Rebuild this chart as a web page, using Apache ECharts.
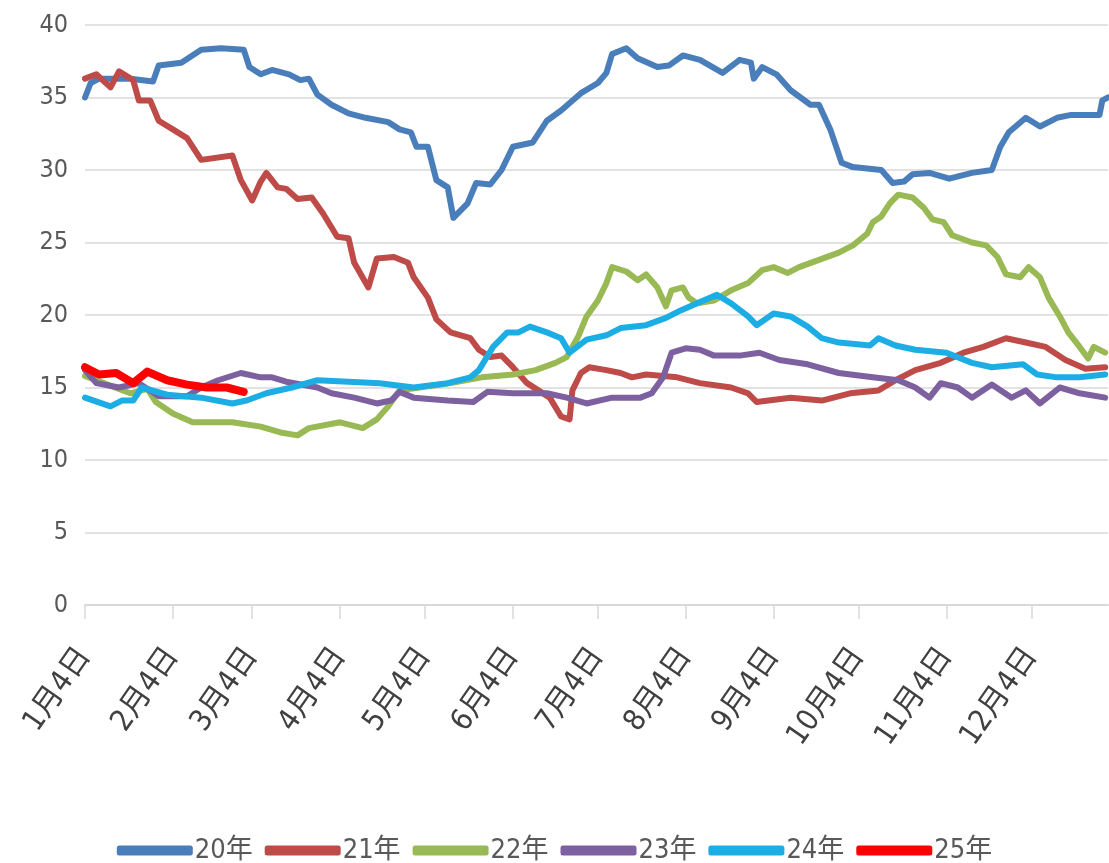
<!DOCTYPE html>
<html><head><meta charset="utf-8">
<script src="https://cdn.jsdelivr.net/npm/echarts@6/dist/echarts.min.js"></script>
<style>html,body{margin:0;padding:0;background:#fff}#c{width:1109px;height:863px}</style>
</head><body><div id="c"></div>
<script>
// x tick labels and their positions (days after 1月4日)
const tickLabels = ['1月4日','2月4日','3月4日','4月4日','5月4日','6月4日','7月4日','8月4日','9月4日','10月4日','11月4日','12月4日'];
const tickDays = [0,31,59,90,120,151,181,212,243,273,304,334];
const yTicks = [0,5,10,15,20,25,30,35,40];

const seriesNames = ['20年','21年','22年','23年','24年','25年'];

const days20 = [0,2,5,16,24,26,34,41,48,56,58,62,66,72,76,79,82,87,93,99,107,111,115,117,121,124,128,130,135,138,143,147,151,158,163,168,175,181,184,186,191,195,202,206,211,217,225,231,235,236,239,244,249,256,259,263,267,271,281,285,289,292,298,305,313,320,323,326,332,337,343,348,358,359,361];
const vals20 = [35.0,36.0,36.3,36.3,36.1,37.2,37.4,38.3,38.4,38.3,37.1,36.6,36.9,36.6,36.2,36.3,35.2,34.5,33.9,33.6,33.3,32.8,32.6,31.6,31.6,29.3,28.8,26.7,27.7,29.1,29.0,30.0,31.6,31.9,33.4,34.1,35.3,36.0,36.7,38.0,38.4,37.7,37.1,37.2,37.9,37.6,36.7,37.6,37.4,36.3,37.1,36.6,35.5,34.5,34.5,32.8,30.5,30.2,30.0,29.1,29.2,29.7,29.8,29.4,29.8,30.0,31.6,32.6,33.6,33.0,33.6,33.8,33.8,34.8,35.0];

const days21 = [0,4,9,12,17,19,23,26,31,36,41,52,55,59,62,64,68,71,75,80,84,89,93,95,100,103,109,114,116,121,124,129,136,139,143,147,151,156,160,164,168,171,172,175,178,184,189,193,198,209,217,228,234,237,249,260,270,280,286,293,302,310,317,325,332,339,346,353,360];
const vals21 = [36.3,36.6,35.7,36.8,36.2,34.8,34.8,33.4,32.8,32.2,30.7,31.0,29.3,27.9,29.2,29.8,28.8,28.7,28.0,28.1,27.0,25.4,25.3,23.6,21.9,23.9,24.0,23.6,22.6,21.2,19.7,18.8,18.4,17.6,17.1,17.2,16.4,15.3,14.8,14.3,13.0,12.8,14.8,16.0,16.4,16.2,16.0,15.7,15.9,15.7,15.3,15.0,14.6,14.0,14.3,14.1,14.6,14.8,15.5,16.2,16.7,17.4,17.8,18.4,18.1,17.8,16.9,16.3,16.4];

const days22 = [0,8,16,22,25,31,38,52,62,69,75,79,90,98,103,107,111,118,129,140,151,159,166,170,174,177,181,184,186,191,195,198,202,205,207,211,213,216,222,228,234,239,243,248,252,259,266,271,276,278,281,284,287,292,296,299,303,306,313,318,322,325,330,333,337,340,344,347,351,354,356,360];
const vals22 = [15.8,15.2,14.6,14.9,14.0,13.2,12.6,12.6,12.3,11.9,11.7,12.2,12.6,12.2,12.8,13.7,14.8,15.0,15.3,15.7,15.9,16.2,16.7,17.1,18.5,19.9,21.0,22.2,23.3,23.0,22.4,22.8,21.9,20.6,21.7,21.9,21.2,20.8,21.0,21.7,22.2,23.1,23.3,22.9,23.3,23.8,24.3,24.8,25.6,26.4,26.8,27.7,28.3,28.1,27.4,26.6,26.4,25.5,25.0,24.8,24.0,22.8,22.6,23.3,22.6,21.2,19.9,18.8,17.8,17.0,17.8,17.4];

const days23 = [0,4,12,19,26,36,41,47,55,62,66,71,82,87,95,103,108,111,116,128,137,142,151,163,170,177,186,196,200,204,207,212,217,222,231,238,245,255,266,278,287,293,298,302,308,313,320,327,332,337,344,351,360];
const vals23 = [16.2,15.3,15.0,15.3,14.4,14.4,15.0,15.5,16.0,15.7,15.7,15.4,15.0,14.6,14.3,13.9,14.1,14.7,14.3,14.1,14.0,14.7,14.6,14.6,14.3,13.9,14.3,14.3,14.6,15.7,17.4,17.7,17.6,17.2,17.2,17.4,16.9,16.6,16.0,15.7,15.5,15.0,14.3,15.3,15.0,14.3,15.2,14.3,14.8,13.9,15.0,14.6,14.3];

const days24 = [0,9,13,17,20,29,41,52,57,64,73,82,93,104,116,128,136,139,144,149,153,157,163,168,171,177,184,189,198,205,210,217,223,228,234,237,243,249,255,260,266,277,280,286,293,304,313,320,331,336,343,351,360];
const vals24 = [14.3,13.7,14.1,14.1,15.0,14.5,14.3,13.9,14.1,14.6,15.0,15.5,15.4,15.3,15.0,15.3,15.7,16.2,17.8,18.8,18.8,19.2,18.8,18.4,17.4,18.3,18.6,19.1,19.3,19.8,20.3,20.9,21.4,20.8,19.9,19.3,20.1,19.9,19.2,18.4,18.1,17.9,18.4,17.9,17.6,17.4,16.7,16.4,16.6,15.9,15.7,15.7,15.9];

const days25 = [0,5,11,17,22,29,36,43,50,56];
const vals25 = [16.4,15.9,16.0,15.3,16.1,15.5,15.2,15.0,15.0,14.7];

const allDays = [days20,days21,days22,days23,days24,days25];
const allVals = [vals20,vals21,vals22,vals23,vals24,vals25];
const colors = ['#4A7EBB','#BE4B48','#98B954','#7D60A0','#1CADE4','#FF0000'];
const widths = [6,6,6,6,6,8];

const font = "'DejaVu Sans Condensed','Noto Sans CJK SC',sans-serif";

const chart = echarts.init(document.getElementById('c'), null, {renderer:'canvas'});
chart.setOption({
  animation:false,
  backgroundColor:'#fff',
  grid:{left:85,right:1,top:25,bottom:258,containLabel:false},
  legend:{
    top:832, left:'center',
    data:seriesNames,
    icon:'roundRect', itemWidth:76, itemHeight:10, itemGap:12,
    textStyle:{fontSize:27,color:'#595959',fontFamily:font,padding:[0,0,0,-3]}
  },
  xAxis:{
    type:'value', min:0, max:361,
    axisLine:{show:true,lineStyle:{color:'#D9D9D9',width:2}},
    axisTick:{show:true,customValues:tickDays,length:14,lineStyle:{color:'#D9D9D9',width:1.5}},
    axisLabel:{
      customValues:tickDays, rotate:55, fontSize:30, color:'#404040', fontFamily:font, margin:46,
      formatter:function(v){ const i = tickDays.indexOf(Math.round(v)); return i>=0 ? tickLabels[i] : ''; }
    },
    splitLine:{show:false}
  },
  yAxis:{
    type:'value', min:0, max:40, interval:5,
    axisLine:{show:false}, axisTick:{show:false},
    axisLabel:{fontSize:25,color:'#595959',fontFamily:font,margin:17},
    splitLine:{lineStyle:{color:'#D9D9D9',width:1.5}}
  },
  series: seriesNames.map((n,i)=>({
    name:n, type:'line', showSymbol:false, symbol:'none',
    data: allDays[i].map((d,j)=>[d, allVals[i][j]]),
    lineStyle:{color:colors[i],width:widths[i],cap:'round',join:'round'},
    itemStyle:{color:colors[i]},
    z: i===5 ? 10 : 2+i
  }))
});
</script></body></html>
